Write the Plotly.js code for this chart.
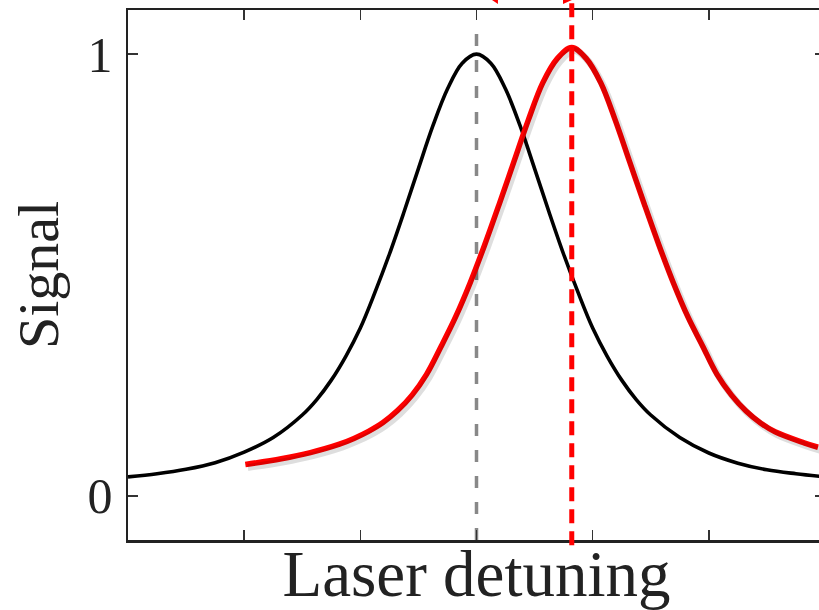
<!DOCTYPE html>
<html>
<head>
<meta charset="utf-8">
<script src="https://cdn.plot.ly/plotly-3.0.1.min.js"></script>
<style>
html,body{margin:0;padding:0;overflow:hidden;background:#fff;}
#chart{width:830px;height:610px;}
</style>
</head>
<body>
<div id="chart"></div>
<script>
// Black (reference) resonance: detuning (arb. units) and signal
const blackX = [-3.0,-2.75,-2.5,-2.25,-2.0,-1.75,-1.5,-1.375,-1.25,-1.125,-1.0,-0.875,-0.75,-0.625,-0.5,-0.375,-0.25,-0.125,0.0,
                0.125,0.25,0.375,0.5,0.625,0.75,0.875,1.0,1.125,1.25,1.375,1.5,1.75,2.0,2.25,2.5,2.75,3.0];
const blackY = [0.043,0.050,0.060,0.075,0.099,0.132,0.183,0.218,0.262,0.316,0.380,0.460,0.547,0.642,0.741,0.838,0.921,0.979,1.000,
                0.979,0.921,0.838,0.741,0.642,0.547,0.460,0.380,0.316,0.262,0.218,0.183,0.132,0.097,0.074,0.059,0.050,0.043];

// Red (shifted) resonance
const redX = [-1.99,-1.68,-1.43,-1.18,-1.055,-0.93,-0.805,-0.68,-0.555,-0.43,-0.305,-0.18,-0.055,0.07,0.195,0.32,0.445,0.57,0.695,0.82,
              0.945,1.07,1.195,1.32,1.445,1.57,1.695,1.82,1.945,2.07,2.195,2.32,2.445,2.57,2.82,2.94];
const redY = [0.071,0.084,0.098,0.117,0.130,0.146,0.166,0.193,0.228,0.275,0.338,0.405,0.482,0.568,0.660,0.755,0.850,0.935,0.990,1.015,
              0.990,0.935,0.850,0.755,0.660,0.568,0.482,0.405,0.340,0.275,0.228,0.192,0.165,0.145,0.120,0.110];

// Resonance centres
const blackCenter = 0.0;
const redCenter = 0.82;

// Axis ticks
const xTicks = [-2,-1,0,1,2];
const yTicks = [0,1];
const yTickText = ['0','1'];

const xRange = [-3,3];
const yRange = [-0.1,1.1];
// shadow offset (px) converted through the axis scale
const plotW = 697, plotH = 530;
const dxu = 2.5*(xRange[1]-xRange[0])/plotW;
const dyu = 3*(yRange[1]-yRange[0])/plotH;

const traces = [
  {x: redX, y: redY, xaxis:'x2', yaxis:'y2', mode:'lines', line:{color:'rgba(0,0,0,0.13)', width:7, shape:'spline', smoothing:1}, hoverinfo:'skip', showlegend:false},
  {x: blackX, y: blackY, mode:'lines', line:{color:'#000000', width:3.6, shape:'spline', smoothing:1}, showlegend:false},
  {x: redX, y: redY, mode:'lines', line:{color:'#ff0000', width:5.5, shape:'spline', smoothing:1}, showlegend:false}
];

const serif = 'Liberation Serif, DejaVu Serif, serif';
const axLine = '#222222';

const layout = {
  width: 830, height: 610,
  margin: {l:128, r:5, t:10, b:70},
  paper_bgcolor:'#ffffff', plot_bgcolor:'#ffffff',
  showlegend:false,
  xaxis: {
    range: xRange, tickvals: xTicks, showticklabels:false,
    ticks:'inside', ticklen:10, tickwidth:1.5, tickcolor:'#333',
    showline:true, linecolor:axLine, linewidth:2.5, mirror:'ticks',
    showgrid:false, zeroline:false, fixedrange:true, automargin:false,
    title:{text:'Laser detuning', font:{family:serif, size:65, color:'#222'}, standoff:30}
  },
  yaxis: {
    range: yRange, tickvals: yTicks, ticktext: yTickText,
    ticks:'inside', ticklen:10, tickwidth:1.5, tickcolor:'#333',
    tickfont:{family:serif, size:50, color:'#222'}, ticklabelstandoff:3,
    showline:true, linecolor:axLine, linewidth:2.5, mirror:'ticks',
    showgrid:false, zeroline:false, fixedrange:true,
    title:{text:'Signal', font:{family:serif, size:58, color:'#222'}, standoff:10}
  },
  xaxis2: {overlaying:'x', range:[xRange[0]-dxu, xRange[1]-dxu], visible:false, fixedrange:true},
  yaxis2: {overlaying:'y', range:[yRange[0]+dyu, yRange[1]+dyu], visible:false, fixedrange:true},
  shapes: [
    {type:'line', xref:'x', yref:'y', x0:blackCenter, x1:blackCenter, y0:yRange[0], y1:1.077,
     line:{color:'#888888', width:3.5, dash:'12px,14px'}, layer:'below'},
    {type:'line', xref:'x', yref:'paper', x0:redCenter, x1:redCenter, y0:-0.01, y1:1.02,
     line:{color:'#ff0000', width:5, dash:'14px,8px'}, layer:'above'},
    {type:'path', xref:'paper', yref:'paper', path:'M0.5222,1.0189 L0.5308,1.0189 L0.5308,1.0113 Z',
     fillcolor:'#ff0000', line:{width:0}},
    {type:'path', xref:'paper', yref:'paper', path:'M0.6241,1.0189 L0.6370,1.0189 L0.6241,1.0113 Z',
     fillcolor:'#ff0000', line:{width:0}}
  ]
};

Plotly.newPlot('chart', traces, layout, {displayModeBar:false, staticPlot:true});
</script>
</body>
</html>
